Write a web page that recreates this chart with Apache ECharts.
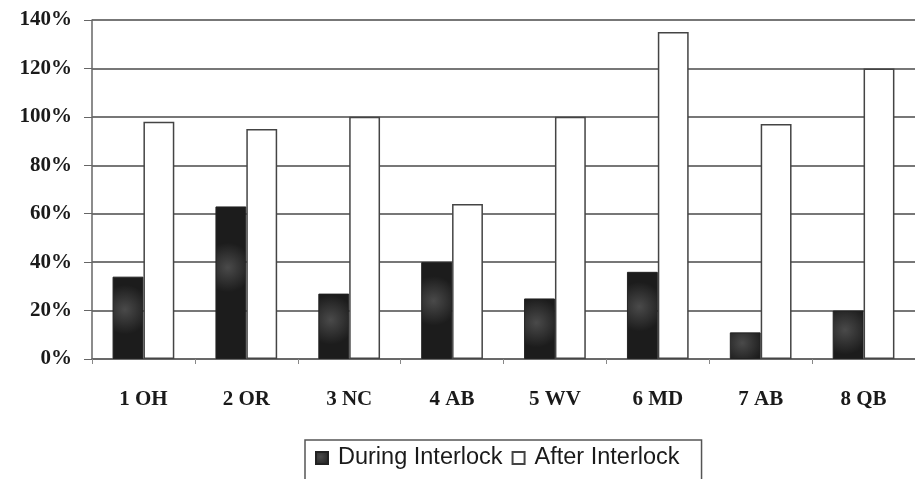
<!DOCTYPE html>
<html>
<head>
<meta charset="utf-8">
<script src="https://cdn.jsdelivr.net/npm/echarts@6/dist/echarts.min.js"></script>
<style>
html,body{margin:0;padding:0;background:#fff;}
#chart{width:915px;height:479px;}
</style>
</head>
<body>
<div id="chart"></div>
<script>
var categories = ['1 OH','2 OR','3 NC','4 AB','5 WV','6 MD','7 AB','8 QB'];
var duringInterlock = [34, 63, 27, 40, 25, 36, 11, 20];
var afterInterlock = [98, 95, 100, 64, 100, 135, 97, 120];
var yTicks = [0, 20, 40, 60, 80, 100, 120, 140];

var chart = echarts.init(document.getElementById('chart'));
var serif = '"Liberation Serif", "Times New Roman", serif';
chart.setOption({
  animation: false,
  backgroundColor: '#ffffff',
  grid: { left: 92, top: 20, width: 828, height: 339, containLabel: false },
  xAxis: {
    type: 'category',
    data: categories,
    axisLine: { show: true, lineStyle: { color: '#666', width: 1.5 } },
    axisTick: { show: true, length: 5, lineStyle: { color: '#888' } },
    axisLabel: { color: '#1a1a1a', fontFamily: serif, fontWeight: 'bold', fontSize: 21, margin: 30 },
    splitLine: { show: false }
  },
  yAxis: {
    type: 'value',
    min: yTicks[0],
    max: yTicks[yTicks.length - 1],
    interval: 20,
    axisLine: { show: true, lineStyle: { color: '#666', width: 1.5 } },
    axisTick: { show: true, length: 8, inside: false, lineStyle: { color: '#666' } },
    axisLabel: { color: '#1a1a1a', fontFamily: serif, fontWeight: 'bold', fontSize: 21, margin: 20, formatter: '{value}%' },
    splitLine: { show: true, lineStyle: { color: '#4a4a4a', width: 1.5 } }
  },
  legend: {
    top: 440,
    left: 305,
    padding: [6, 22, 14, 10],
    itemGap: 9,
    itemWidth: 12,
    itemHeight: 12,
    borderColor: '#555',
    borderWidth: 1.5,
    icon: 'rect',
    textStyle: { fontFamily: '"Liberation Sans", Arial, sans-serif', fontSize: 23.5, color: '#1a1a1a', padding: [0, 0, 0, 5] },
    data: ['During Interlock', 'After Interlock']
  },
  series: [
    {
      name: 'During Interlock',
      type: 'bar',
      data: duringInterlock,
      barWidth: '30%',
      barGap: '0%',
      itemStyle: {
        color: new echarts.graphic.RadialGradient(0.4, 0.4, 0.8, [
          { offset: 0, color: '#4a4a4a' },
          { offset: 1, color: '#1c1c1c' }
        ]),
        borderColor: '#222',
        borderWidth: 1
      }
    },
    {
      name: 'After Interlock',
      type: 'bar',
      data: afterInterlock,
      barWidth: '30%',
      barGap: '0%',
      itemStyle: { color: '#ffffff', borderColor: '#444', borderWidth: 1.5 }
    }
  ]
});
</script>
</body>
</html>
